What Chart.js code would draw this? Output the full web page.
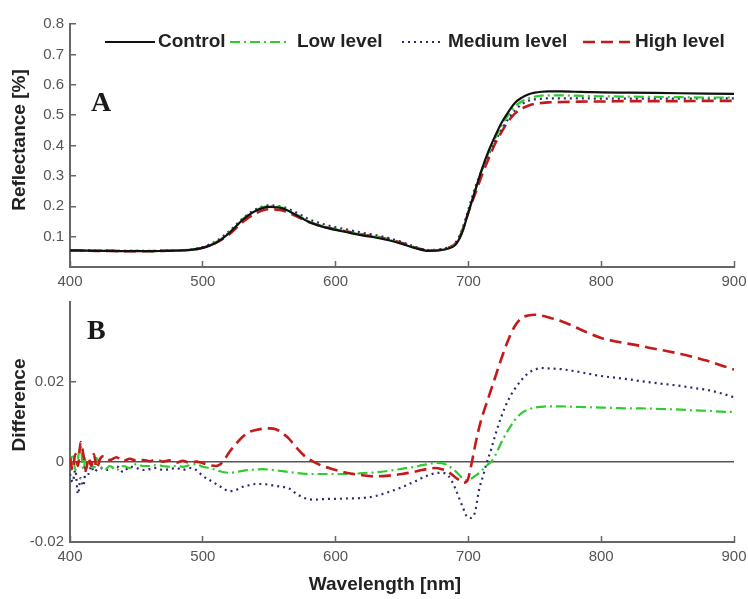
<!DOCTYPE html>
<html><head><meta charset="utf-8">
<script src="https://cdn.jsdelivr.net/npm/chart.js@4.4.1/dist/chart.umd.min.js"></script>
<style>
html,body{margin:0;padding:0;background:#fff;}
#wrap{position:relative;width:748px;height:599px;overflow:hidden;}
canvas{position:absolute;left:0;}
#cA{top:0;} #cB{top:296px;}
</style></head><body>
<div id="wrap"><canvas id="cA" width="748" height="296"></canvas><canvas id="cB" width="748" height="303"></canvas></div>
<script>
// ---------- Panel A: reflectance ----------
const wavelengthsA = [
  400,410,420,430,440,450,460,470,480,490,
  500,510,520,530,540,550,560,570,580,590,
  600,610,620,630,640,650,660,670,680,685,
  690,695,700,705,710,715,720,725,730,735,
  740,745,750,755,760,770,780,790,800,820,
  840,860,880,900];
const controlA = [
  0.055,0.054,0.053,0.053,0.052,0.052,0.052,0.053,0.054,0.056,
  0.063,0.080,0.112,0.155,0.185,0.198,0.193,0.172,0.148,0.133,
  0.122,0.113,0.104,0.097,0.088,0.076,0.062,0.053,0.056,0.061,
  0.072,0.110,0.180,0.250,0.320,0.380,0.430,0.475,0.510,0.540,
  0.557,0.568,0.574,0.577,0.578,0.578,0.577,0.576,0.575,0.574,
  0.573,0.572,0.571,0.570];
const lowA = [
  0.055,0.054,0.054,0.053,0.053,0.053,0.052,0.053,0.055,0.057,
  0.064,0.082,0.114,0.157,0.187,0.200,0.195,0.174,0.150,0.135,
  0.124,0.115,0.106,0.099,0.090,0.077,0.063,0.054,0.056,0.061,
  0.074,0.113,0.182,0.250,0.318,0.375,0.422,0.465,0.500,0.528,
  0.545,0.555,0.561,0.564,0.565,0.565,0.564,0.563,0.562,0.561,
  0.560,0.559,0.558,0.558];
const mediumA = [
  0.056,0.055,0.054,0.054,0.053,0.053,0.053,0.054,0.055,0.057,
  0.066,0.085,0.118,0.160,0.190,0.203,0.198,0.180,0.157,0.142,
  0.131,0.122,0.113,0.105,0.095,0.082,0.066,0.056,0.059,0.065,
  0.079,0.120,0.190,0.260,0.318,0.368,0.413,0.452,0.487,0.515,
  0.535,0.547,0.552,0.554,0.555,0.555,0.555,0.555,0.554,0.554,
  0.554,0.554,0.555,0.555];
const highA = [
  0.054,0.054,0.053,0.053,0.052,0.052,0.052,0.053,0.054,0.056,
  0.063,0.080,0.108,0.148,0.177,0.190,0.186,0.168,0.148,0.134,
  0.124,0.116,0.107,0.100,0.091,0.079,0.064,0.055,0.057,0.063,
  0.076,0.115,0.180,0.240,0.300,0.355,0.405,0.445,0.480,0.505,
  0.521,0.531,0.537,0.540,0.542,0.543,0.544,0.545,0.545,0.546,
  0.546,0.546,0.547,0.547];

// ---------- Panel B: difference ----------
const wavelengthsB = [
  400,402,404,406,408,410,412,414,416,418,
  420,423,426,430,435,440,445,450,455,460,
  465,470,475,480,485,490,495,500,505,510,
  515,520,525,530,535,540,545,550,555,560,
  565,570,575,580,585,590,595,600,610,620,
  630,640,650,660,665,670,675,680,685,690,
  693,696,699,702,705,708,711,714,717,720,
  725,730,735,740,745,750,755,760,770,780,
  790,800,810,820,830,840,850,860,870,880,
  890,900];
const lowDiff = [
  -0.001,0.002,-0.002,0.001,0.004,-0.002,0.001,-0.001,0.000,-0.002,
  0.001,-0.001,-0.002,-0.001,-0.002,-0.001,-0.0015,-0.0005,-0.001,-0.001,
  -0.0008,-0.001,-0.0012,-0.001,-0.0012,-0.0008,-0.0005,-0.0012,-0.0015,-0.002,
  -0.0025,-0.0027,-0.0025,-0.0022,-0.002,-0.0019,-0.0018,-0.0019,-0.0021,-0.0023,
  -0.0025,-0.0027,-0.0029,-0.003,-0.003,-0.003,-0.003,-0.003,-0.003,-0.0028,
  -0.0026,-0.0022,-0.0017,-0.0012,-0.0008,-0.0005,-0.0002,-0.0003,-0.001,-0.0022,
  -0.0032,-0.0042,-0.0045,-0.0042,-0.0035,-0.0028,-0.0018,-0.0008,0.0,0.0015,
  0.005,0.008,0.0105,0.0122,0.0131,0.0136,0.0138,0.0139,0.0139,0.0138,
  0.0137,0.0136,0.0135,0.0134,0.0134,0.0133,0.0132,0.0131,0.0129,0.0128,
  0.0126,0.0125];
const mediumDiff = [
  -0.003,-0.005,-0.002,-0.008,-0.004,-0.006,-0.002,-0.003,-0.001,-0.0025,
  -0.002,-0.0015,-0.002,-0.0018,-0.001,-0.0025,-0.0012,-0.0015,-0.002,-0.0018,
  -0.0015,-0.002,-0.0018,-0.0015,-0.002,-0.0015,-0.002,-0.0035,-0.0045,-0.0055,
  -0.0065,-0.0073,-0.007,-0.0062,-0.0058,-0.0055,-0.0055,-0.0057,-0.006,-0.0062,
  -0.0066,-0.0078,-0.0088,-0.0093,-0.0094,-0.0093,-0.0092,-0.0092,-0.0091,-0.009,
  -0.0085,-0.0075,-0.0063,-0.0048,-0.004,-0.0033,-0.0028,-0.0027,-0.0035,-0.0065,
  -0.009,-0.0115,-0.0137,-0.014,-0.0125,-0.007,-0.0035,0.0,0.003,0.0065,
  0.0115,0.0155,0.0183,0.0205,0.0222,0.0231,0.0235,0.0234,0.0232,0.0227,
  0.0221,0.0215,0.0211,0.0207,0.0202,0.0198,0.0194,0.019,0.0185,0.018,
  0.0172,0.0162];
const highDiff = [
  0.001,-0.002,0.002,-0.001,0.005,0.002,-0.002,0.001,-0.001,0.002,
  -0.0015,0.001,0.0015,0.0005,0.0012,0.0002,0.0008,0.0003,0.0005,0.0002,
  0.0006,0.0001,0.0004,-0.0002,0.0003,-0.0002,0.0001,-0.0003,-0.0008,-0.001,
  0.0,0.0025,0.0045,0.0063,0.0075,0.008,0.0083,0.0084,0.0082,0.0072,
  0.0058,0.0038,0.002,0.0007,-0.0002,-0.001,-0.0015,-0.002,-0.0028,-0.0033,
  -0.0036,-0.0034,-0.003,-0.0024,-0.002,-0.0017,-0.0015,-0.0018,-0.0025,-0.0038,
  -0.0045,-0.0052,-0.0048,-0.001,0.004,0.0085,0.012,0.015,0.018,0.021,
  0.026,0.0305,0.034,0.036,0.0366,0.0368,0.0366,0.0362,0.0352,0.0338,
  0.0323,0.031,0.0302,0.0296,0.029,0.0283,0.0277,0.027,0.0262,0.0253,
  0.0242,0.0231];

const seriesNames = ['Control','Low level','Medium level','High level'];
const xTicks = [400,500,600,700,800,900];
const yTicksA = [0.1,0.2,0.3,0.4,0.5,0.6,0.7,0.8];
const yTicksB = [-0.02,0,0.02];
const titleA = 'Reflectance [%]';
const titleB = 'Difference';
const titleX = 'Wavelength [nm]';

// ---------- styling ----------
const SANS = "'Liberation Sans', Arial, Helvetica, sans-serif";
const STYLE = {
  'Control':      {color:'#111111', dash:[],          width:2.2},
  'Low level':    {color:'#2fcc2f', dash:[10,4,2,4],  width:2.2},
  'Medium level': {color:'#2b2b6e', dash:[2,4],       width:2.2},
  'High level':   {color:'#c41a1a', dash:[12,6],      width:2.6}
};
// legend layout (pixel positions of the sample line and text, panel A)
const LEGEND_Y = 42;
const LEGEND_POS = [{x0:105,x1:155,tx:158},{x0:230,x1:290,tx:297},{x0:402,x1:442,tx:448},{x0:583,x1:630,tx:635}];

const pts = (xs, ys) => xs.map((x,i)=>({x:x, y:ys[i]}));
const ds = (name, xs, ys, order) => ({
  label:name, data:pts(xs,ys), order:order,
  borderColor:STYLE[name].color, backgroundColor:STYLE[name].color,
  borderDash:STYLE[name].dash, borderWidth:STYLE[name].width,
  pointRadius:0, fill:false, cubicInterpolationMode:'monotone'
});

function xScale(height){
  return {
    type:'linear', min:400, max:900,
    afterBuildTicks: s => { s.ticks = xTicks.map(v=>({value:v})); },
    ticks:{color:'#555', font:{family:SANS, size:15}, padding:12, maxRotation:0, autoSkip:false},
    grid:{drawOnChartArea:false, drawTicks:true, tickLength:-6, tickColor:'#666', tickWidth:1.5},
    border:{color:'#666', width:2},
    title:{display:false},
    afterFit: s => { s.height = height; s.paddingLeft = 0; s.paddingRight = 0; }
  };
}
function yScale(min, max, tickVals, zeroLine){
  return {
    type:'linear', min:min, max:max,
    afterBuildTicks: s => { s.ticks = tickVals.map(v=>({value:v})); },
    ticks:{color:'#555', font:{family:SANS, size:15}, padding:12,
           callback: v => String(Math.round(v*1000)/1000)},
    grid:{
      drawOnChartArea: !!zeroLine, drawTicks:true, tickLength:-6, tickColor:'#666', tickWidth:1.5,
      color: c => (zeroLine && c.tick && Math.abs(c.tick.value) < 1e-9) ? '#555' : 'rgba(0,0,0,0)',
      lineWidth:1.5
    },
    border:{color:'#666', width:2},
    title:{display:false},
    afterFit: s => { s.width = 65; s.paddingTop = 0; s.paddingBottom = 0; }
  };
}
// text decorations: panel letter and axis titles
const textPlugin = (id, items) => ({
  id:id,
  afterDraw(chart){
    const c = chart.ctx;
    items.forEach(it => {
      c.save();
      c.font = it.font; c.fillStyle = it.color || '#222';
      c.textAlign = it.align || 'center'; c.textBaseline = it.baseline || 'middle';
      c.translate(it.x, it.y); if (it.rot) c.rotate(it.rot);
      c.fillText(it.text, 0, 0);
      c.restore();
    });
  }
});
const LETTER_FONT = "bold 28px 'Liberation Serif', 'Times New Roman', serif";
const TITLE_FONT = "bold 19px " + SANS;

const legendPlugin = {
  id:'insideLegend',
  afterDraw(chart){
    const c = chart.ctx;
    c.save();
    c.font = "bold 19px " + SANS;
    c.textBaseline = 'middle'; c.textAlign = 'left';
    chart.data.datasets.forEach((d,i)=>{
      const p = LEGEND_POS[i];
      c.strokeStyle = d.borderColor; c.lineWidth = d.borderWidth; c.setLineDash(d.borderDash);
      c.beginPath(); c.moveTo(p.x0, LEGEND_Y); c.lineTo(p.x1, LEGEND_Y); c.stroke();
      c.setLineDash([]); c.fillStyle = '#222'; c.fillText(d.label, p.tx, LEGEND_Y);
    });
    c.restore();
  }
};

Chart.defaults.font.family = SANS;

new Chart(document.getElementById('cA'), {
  type:'line',
  data:{datasets:[
    ds(seriesNames[0], wavelengthsA, controlA, 0),
    ds(seriesNames[1], wavelengthsA, lowA, 1),
    ds(seriesNames[2], wavelengthsA, mediumA, 2),
    ds(seriesNames[3], wavelengthsA, highA, 3)
  ]},
  options:{
    responsive:false, animation:false, devicePixelRatio:1,
    layout:{padding:{left:5, right:14, top:24, bottom:0}},
    scales:{ x:xScale(29), y:yScale(0, 0.8, yTicksA, false) },
    plugins:{ tooltip:{enabled:false}, legend:{display:false} }
  },
  plugins:[legendPlugin, textPlugin('textA', [
    {text:'A', x:91, y:111, font:LETTER_FONT, align:'left', baseline:'alphabetic', color:'#1a1a1a'},
    {text:titleA, x:20, y:140, font:TITLE_FONT, rot:-Math.PI/2}
  ])]
});

new Chart(document.getElementById('cB'), {
  type:'line',
  data:{datasets:[
    ds(seriesNames[1], wavelengthsB, lowDiff, 1),
    ds(seriesNames[2], wavelengthsB, mediumDiff, 2),
    ds(seriesNames[3], wavelengthsB, highDiff, 0)
  ]},
  options:{
    responsive:false, animation:false, devicePixelRatio:1,
    layout:{padding:{left:5, right:14, top:6, bottom:0}},
    scales:{ x:xScale(57), y:yScale(-0.02, 0.04, yTicksB, true) },
    plugins:{ tooltip:{enabled:false}, legend:{display:false} }
  },
  plugins:[textPlugin('textB', [
    {text:'B', x:87, y:43, font:LETTER_FONT, align:'left', baseline:'alphabetic', color:'#1a1a1a'},
    {text:titleB, x:20, y:109, font:TITLE_FONT, rot:-Math.PI/2},
    {text:titleX, x:385, y:289, font:TITLE_FONT}
  ])]
});
</script>
</body></html>
